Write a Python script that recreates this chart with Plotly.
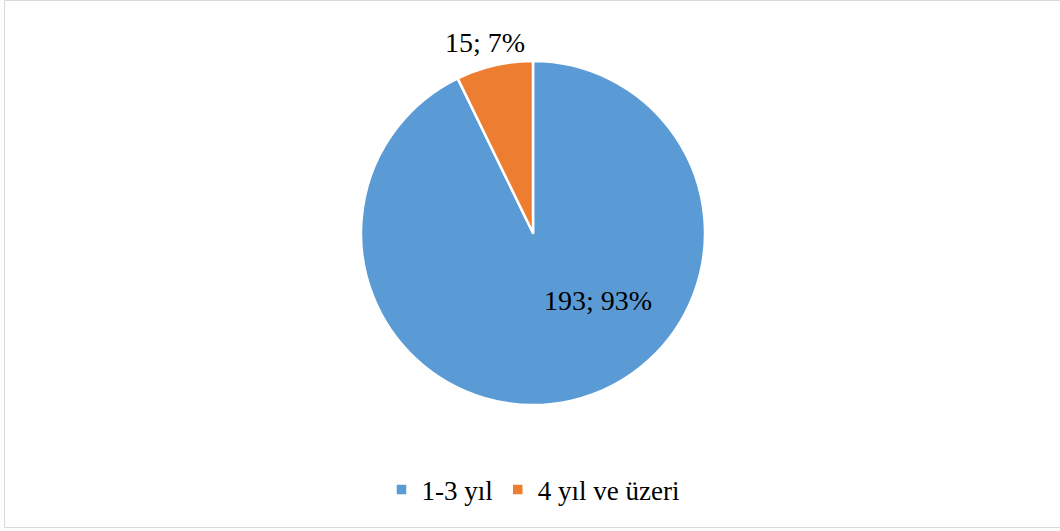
import plotly.graph_objects as go

categories = ["1-3 yıl", "4 yıl ve üzeri"]
values = [193, 15]
colors = ["#5B9BD5", "#ED7D31"]

W, H = 1060, 531
total = sum(values)
label_texts = [f"{v}; {round(100 * v / total)}%" for v in values]
FONT = "Liberation Serif, DejaVu Serif, serif"

fig = go.Figure(
    go.Pie(
        labels=categories,
        values=values,
        sort=False,
        direction="clockwise",
        rotation=0,
        marker=dict(colors=colors, line=dict(color="white", width=2.5)),
        textinfo="none",
        hoverinfo="label+value+percent",
        domain=dict(x=[361 / W, 705 / W], y=[(H - 405) / H, (H - 61) / H]),
    )
)

label_pos = [(598 / W, 1 - 300 / H), (485 / W, 1 - 43 / H)]
for txt, (x, y) in zip(label_texts, label_pos):
    fig.add_annotation(
        x=x, y=y, xref="paper", yref="paper", text=txt, showarrow=False,
        font=dict(family=FONT, size=28, color="#000000"),
        xanchor="center", yanchor="middle",
    )

fig.add_shape(
    type="rect", xref="paper", yref="paper",
    x0=4.5 / W, x1=1061 / W, y0=(H - 527.5) / H, y1=1 - 0.5 / H,
    line=dict(color="#D9D9D9", width=1), fillcolor="rgba(0,0,0,0)",
)

fig.update_layout(
    width=W, height=H,
    margin=dict(l=0, r=0, t=0, b=0),
    paper_bgcolor="white",
    plot_bgcolor="white",
    showlegend=True,
    legend=dict(
        orientation="h", x=533 / W, xanchor="center", y=1 - 490 / H, yanchor="middle",
        font=dict(family=FONT, size=27, color="#000000"),
        itemwidth=30,
    ),
    font=dict(family=FONT),
)

fig.write_html(
    "out.html",
    config={"displayModeBar": False},
    post_script="document.body.style.margin='0';document.body.style.overflow='hidden';",
)
